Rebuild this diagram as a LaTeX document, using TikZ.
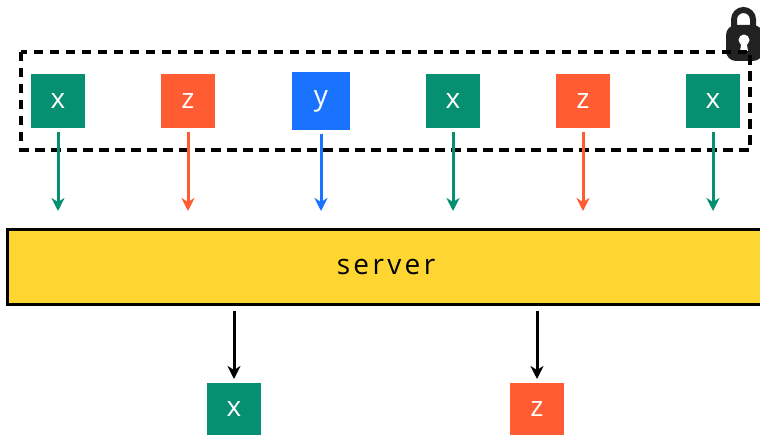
\documentclass[tikz,border=0pt]{standalone}
\usepackage{fontspec}
\setmainfont{Open Sans}
\newfontfamily\srvfont[LetterSpace=12]{Open Sans}
\usetikzlibrary{arrows.meta,calc}
\definecolor{cx}{HTML}{068F70}
\definecolor{cz}{HTML}{FF5C33}
\definecolor{cy}{HTML}{1A73FF}
\definecolor{cs}{HTML}{FFD531}
\definecolor{lockc}{HTML}{222222}
\tikzset{
  pt/.style={inner sep=0pt,outer sep=0pt,text=white,font=\fontsize{28}{28}\selectfont,minimum width=54pt,minimum height=54pt},
  xbox/.style={pt,fill=cx},
  zbox/.style={pt,fill=cz},
  ybox/.style={pt,fill=cy,minimum width=58pt,minimum height=58pt},
  flow/.style={line width=3pt,-{Stealth[length=13pt,width=13pt,inset=4pt]}},
  serverbox/.style={draw=black,line width=3pt,fill=cs,inner sep=0pt,outer sep=1.5pt,minimum width=757pt,minimum height=75pt,font=\srvfont\fontsize{28}{28}\selectfont},
  zone/.style={draw=black,line width=3.3pt,dash pattern=on 9.5pt off 6.5pt}
}
\begin{document}
\begin{tikzpicture}[x=1pt,y=-1pt]
\useasboundingbox (0,0) rectangle (760,435);
% padlock
\fill[lockc,rounded corners=10pt] (726,25) rectangle (763,61);
\draw[lockc,line width=6pt] (734,30) -- (734,19.5) arc[start angle=180,end angle=0,radius=9.5pt] -- (753,30);
\fill[white] (744,40) circle[radius=5.5pt];
\fill[white] (741.5,42) -- (746.5,42) -- (748,51) -- (740,51) -- cycle;
% protected zone
\draw[zone] (21,52) rectangle (750,150);
% sources
\node[xbox] (a) at (58,101) {x};
\node[zbox] (b) at (188,101) {z};
\node[ybox] (c) at (321,101) {y};
\node[xbox] (d) at (453,101) {x};
\node[zbox] (e) at (583,101) {z};
\node[xbox] (f) at (713,101) {x};
\node[serverbox] (srv) at (386,267) {server};
\node[xbox,minimum height=52pt] (g) at (234,409) {x};
\node[zbox,minimum height=52pt] (h) at (537,409) {z};
% connectors
\foreach \n/\c in {a/cx,b/cz,c/cy,d/cx,e/cz,f/cx}
  \draw[flow,color=\c,shorten <=4pt,shorten >=17pt] (\n.south) -- (\n.south |- srv.north);
\draw[flow,black,shorten <=5pt,shorten >=4pt] (srv.south -| g.north) -- (g.north);
\draw[flow,black,shorten <=5pt,shorten >=4pt] (srv.south -| h.north) -- (h.north);
\end{tikzpicture}
\end{document}
